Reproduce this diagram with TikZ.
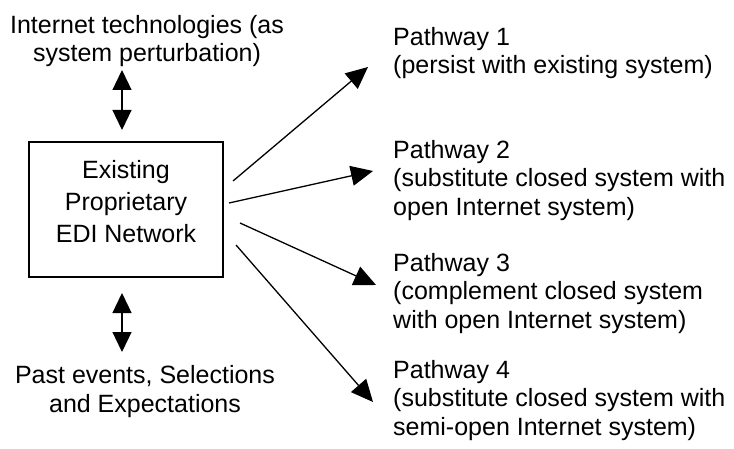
\documentclass[tikz,border=0pt]{standalone}
\usepackage{fontspec}
\setmainfont{Liberation Sans}
\usetikzlibrary{arrows.meta}
\begin{document}
\begin{tikzpicture}[x=1pt,y=-1pt,
  lbl/.style={inner sep=0pt, font=\fontsize{25}{28.5}\selectfont},
  boxlbl/.style={inner sep=0pt, font=\fontsize{25}{32}\selectfont, align=center},
  sysbox/.style={draw, line width=1.5pt, minimum width=194pt, minimum height=135pt, inner sep=0pt},
  dbl/.style={line width=1.3pt, {Triangle[length=20pt,width=19pt]}-{Triangle[length=20pt,width=19pt]}},
  path/.style={line width=1.3pt, -{Triangle[length=22pt,width=20pt]}}
]
\useasboundingbox (0,0) rectangle (734,449);
% texts
\node[lbl, anchor=north, align=center] (top) at (147,15) {Internet technologies (as\\system perturbation)};
\node[lbl, anchor=north, align=center] (bottom) at (145,365.5) {Past events, Selections\\and Expectations};
\node[sysbox] (box) at (126,209.5) {};
\node[boxlbl, anchor=north] (boxtext) at (126,160) {Existing\\Proprietary\\EDI Network};
\node[lbl, anchor=north west, align=left] (p1) at (393,27) {Pathway 1\\(persist with existing system)};
\node[lbl, anchor=north west, align=left] (p2) at (393,140) {Pathway 2\\(substitute closed system with\\open Internet system)};
\node[lbl, anchor=north west, align=left] (p3) at (393,253) {Pathway 3\\(complement closed system\\with open Internet system)};
\node[lbl, anchor=north west, align=left] (p4) at (393,360) {Pathway 4\\(substitute closed system with\\semi-open Internet system)};
% connector endpoints
\coordinate (ta) at (122,70);
\coordinate (tb) at (122,130);
\coordinate (ba) at (122,293);
\coordinate (bb) at (122,352);
\coordinate (s1) at (233,181);
\coordinate (e1) at (368,67);
\coordinate (s2) at (229,203);
\coordinate (e2) at (373,171);
\coordinate (s3) at (240,223);
\coordinate (e3) at (376,285);
\coordinate (s4) at (236,245);
\coordinate (e4) at (373,402);
% connectors
\draw[dbl] (ta) -- (tb);
\draw[dbl] (ba) -- (bb);
\draw[path] (s1) -- (e1);
\draw[path] (s2) -- (e2);
\draw[path] (s3) -- (e3);
\draw[path] (s4) -- (e4);
\end{tikzpicture}
\end{document}
